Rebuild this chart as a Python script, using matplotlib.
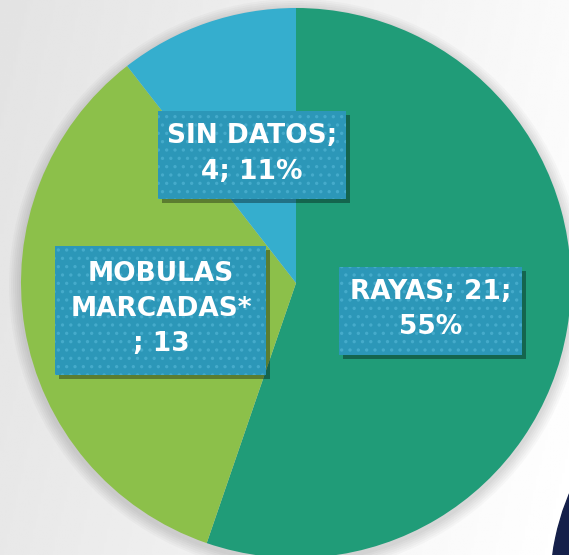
import numpy as np
import matplotlib.pyplot as plt
from matplotlib.patches import Rectangle, Ellipse, Circle

categorias = ["RAYAS", "MOBULAS MARCADAS*", "SIN DATOS"]
valores = [21, 13, 4]
colores = ["#209C78", "#8CC04A", "#35AECE"]
etiquetas = ["RAYAS; 21;\n55%", "MOBULAS\nMARCADAS*\n; 13", "SIN DATOS;\n4; 11%"]

plt.rcParams["hatch.linewidth"] = 1.2

W, H = 569, 555
fig = plt.figure(figsize=(W / 100, H / 100), dpi=100)
ax = fig.add_axes([0, 0, 1, 1])

# fondo gris con degradado
xx, yy = np.meshgrid(np.linspace(0, 1, 200), np.linspace(0, 1, 200))
fondo = 0.89 + 0.09 * xx + 0.02 * (1 - yy)
ax.imshow(fondo, cmap="gray", vmin=0, vmax=1, extent=[0, W, 0, H],
          origin="lower", aspect="auto", zorder=0)

# forma oscura de la esquina
ax.add_patch(Ellipse((590, H - 545), 70, 190, angle=-12, color="#15204a", zorder=1))

centro = (296, H - 283)
radio = 275
# sombra suave alrededor del circulo
for k in range(6):
    ax.add_patch(Circle((centro[0], centro[1] - 3), radio + 2 + 2 * k,
                        color="black", alpha=0.025, linewidth=0, zorder=1.5))
wedges, _ = ax.pie(valores, colors=colores, startangle=90, counterclock=False,
                   center=centro, radius=radio, frame=True,
                   wedgeprops=dict(linewidth=0, zorder=2))
ax.set_xlim(0, W)
ax.set_ylim(0, H)
ax.axis("off")

# cajas de etiquetas: (centro x, centro y, ancho, alto) en pixeles
cajas = [(431, H - 311, 183, 88), (161, H - 310, 211, 129), (252, H - 155, 188, 88)]
for (cx, cy, bw, bh), txt in zip(cajas, etiquetas):
    ax.add_patch(Rectangle((cx - bw / 2 + 4, cy - bh / 2 - 4), bw, bh,
                           facecolor="black", alpha=0.35, linewidth=0, zorder=3))
    ax.add_patch(Rectangle((cx - bw / 2, cy - bh / 2), bw, bh, facecolor="#2C97B8",
                           edgecolor="#45ABCB", hatch="..", linewidth=0, zorder=3))
    ax.text(cx, cy + 1, txt, ha="center", va="center", color="white", fontsize=19,
            fontweight="bold", family=["DejaVu Sans"], linespacing=1.45,
            zorder=4)

fig.savefig("out.png", dpi=100)
